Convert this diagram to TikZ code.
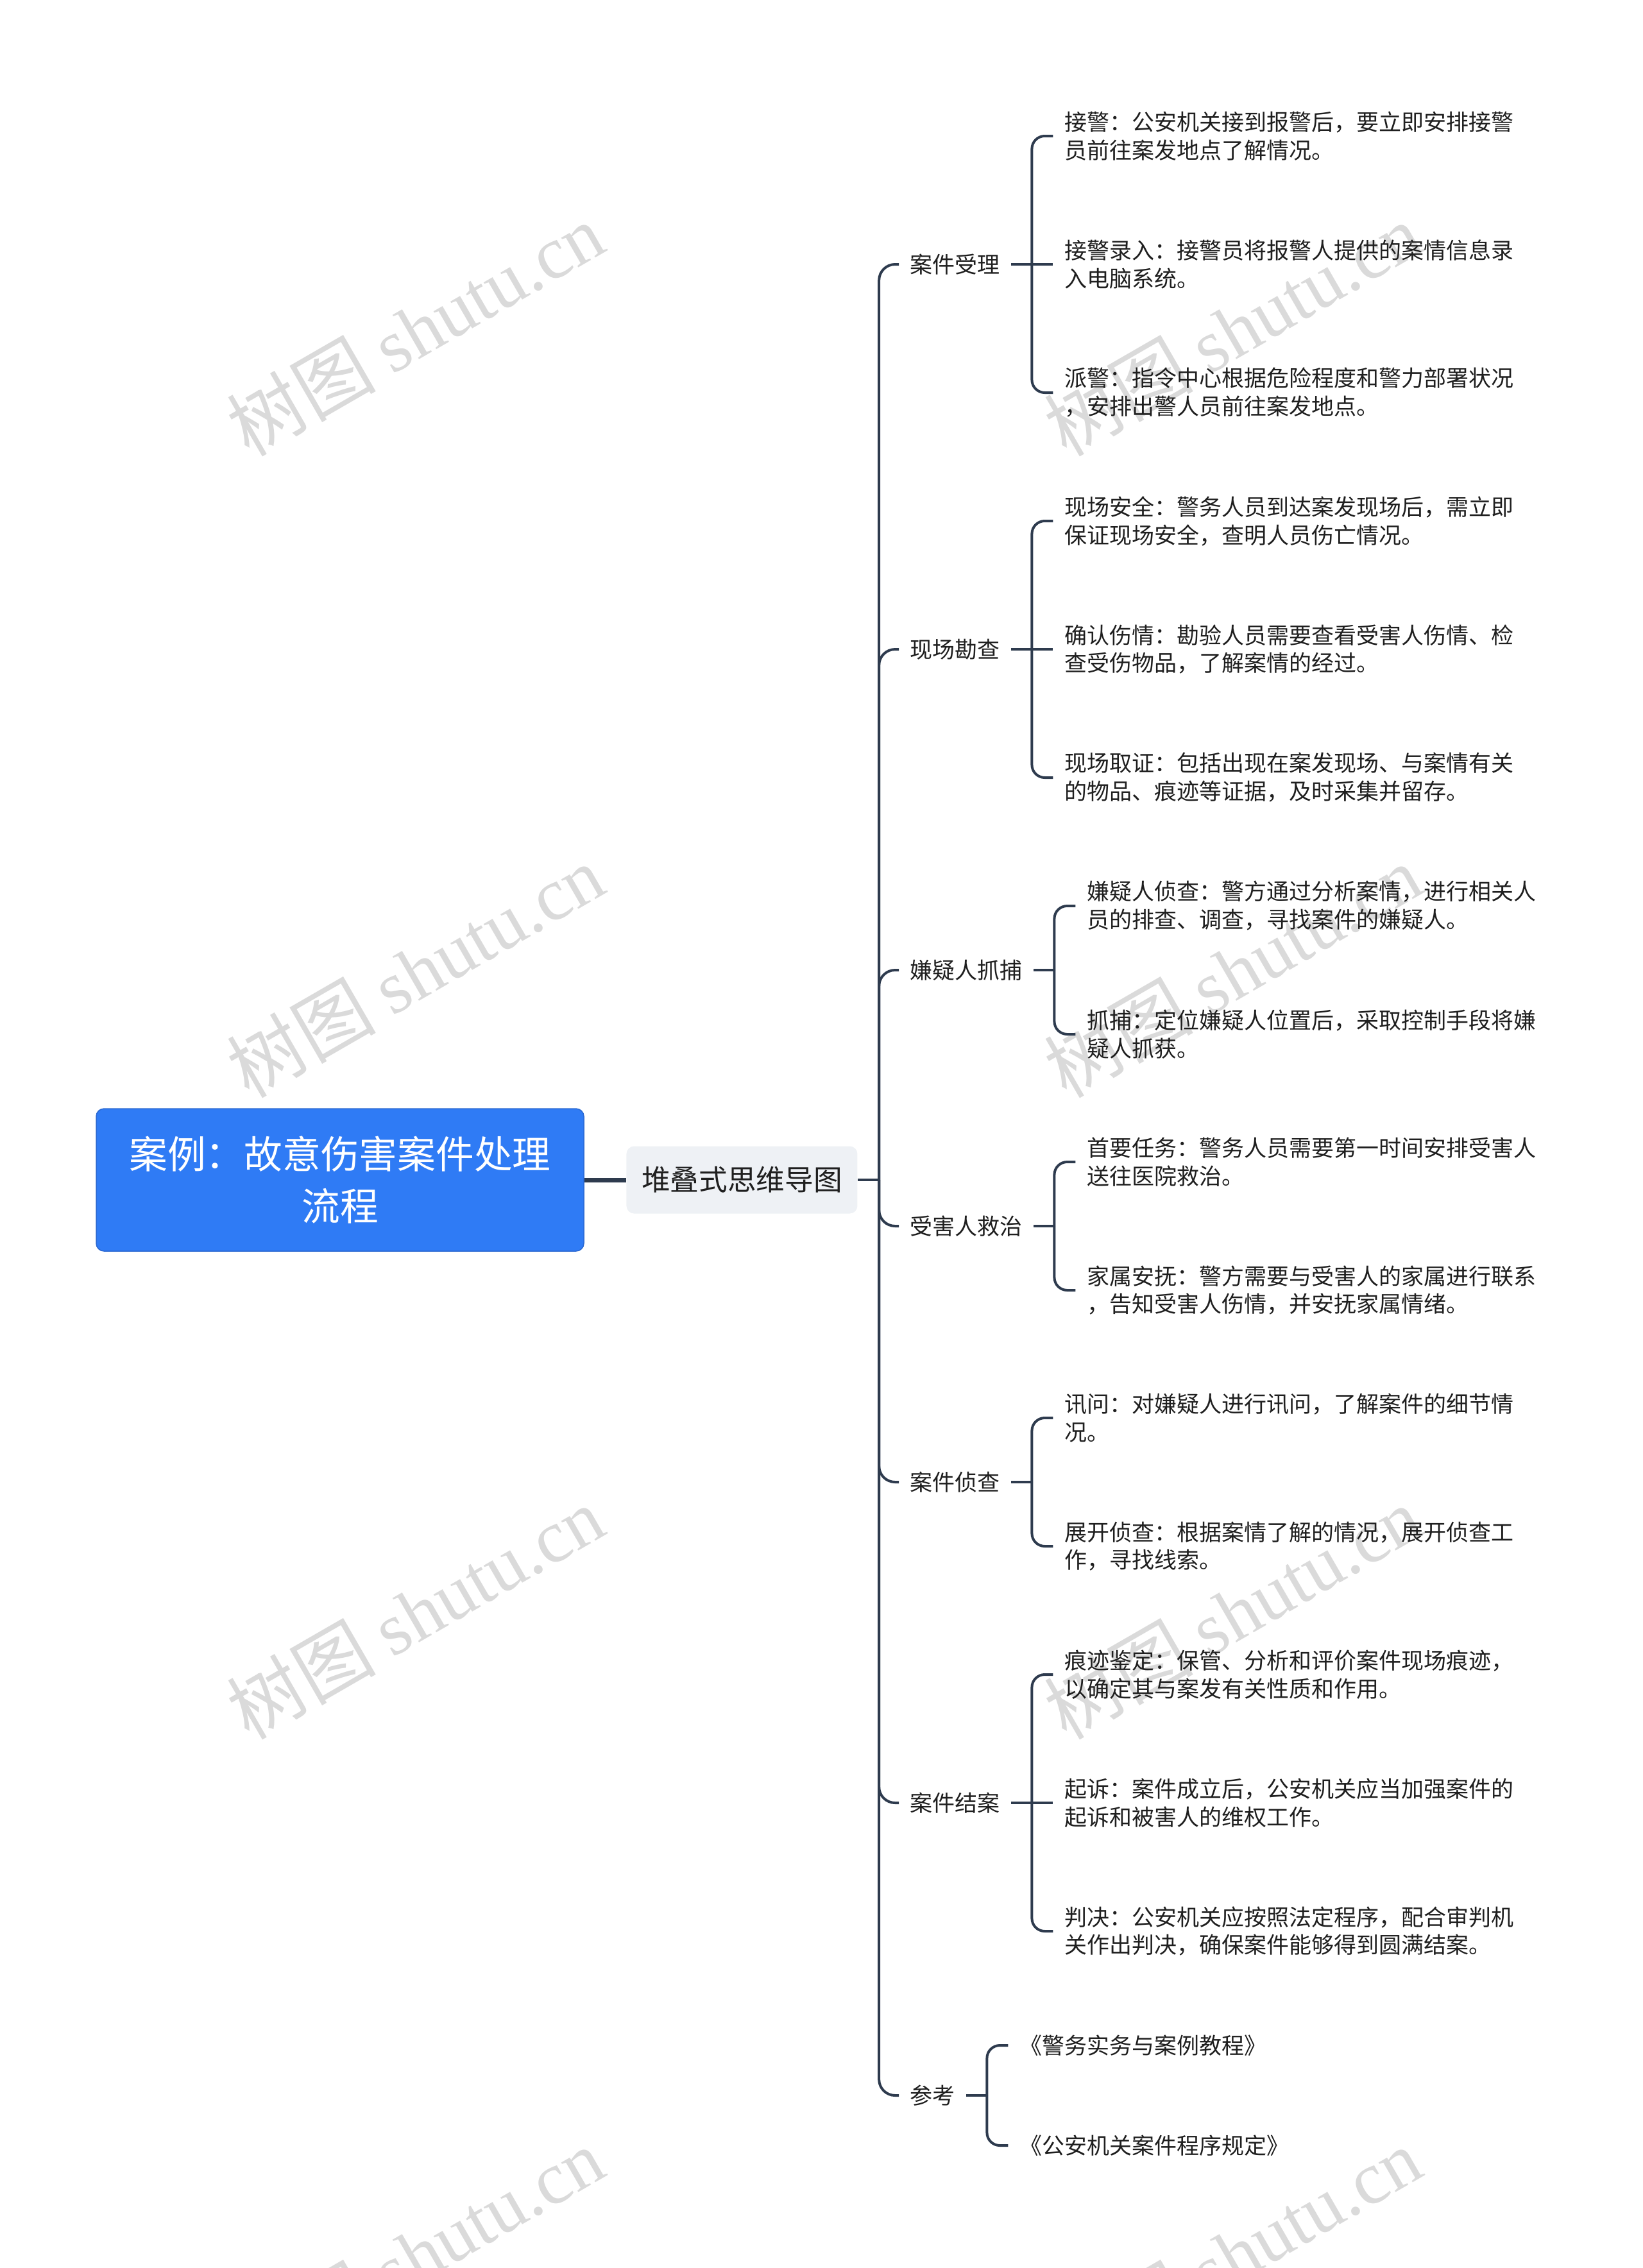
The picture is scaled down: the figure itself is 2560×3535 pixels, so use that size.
\documentclass[tikz,border=0pt]{standalone}
\usepackage{fontspec}
\setmainfont{Noto Sans CJK SC}
\newfontfamily\wmlatin{Liberation Serif}
\usetikzlibrary{positioning}
\definecolor{rootblue}{HTML}{2F7BF5}
\definecolor{rootline}{HTML}{2A68D2}
\definecolor{linkgray}{HTML}{2E3B4E}
\definecolor{hubfill}{HTML}{EEF1F5}
\definecolor{markgray}{HTML}{DADADA}
\definecolor{inkdark}{HTML}{1F1F1F}

\begin{document}
\begin{tikzpicture}[x=0.1mm, y=-0.1mm,
  root/.style = {draw=rootline, line width=0.15mm, fill=rootblue, rounded corners=1.2mm, text=white,
    minimum width=76mm, minimum height=22.2mm, align=center, font=\fontsize{17pt}{22.8pt}\selectfont},
  hub/.style = {fill=hubfill, rounded corners=1.2mm, minimum width=36mm, minimum height=10.5mm,
    text=inkdark, font=\fontsize{12.7pt}{15pt}\selectfont},
  topic/.style = {anchor=west, inner xsep=1.7mm, text=inkdark, font=\fontsize{9.96pt}{12.5pt}\selectfont},
  leaf/.style = {topic, align=left},
  link/.style = {draw=linkgray, line width=0.4mm},
  wmark/.style = {text=markgray, rotate=30, font=\fontsize{33pt}{35pt}\selectfont}]
\useasboundingbox (0,0) rectangle (2560,3535);

% watermarks
\foreach \wx in {647,1921}
  \foreach \wy in {513,1513,2513,3513}
    \node[wmark] at (\wx,\wy) {树图 {\wmlatin shutu.cn}};

\node[root] (root) at (530,1839) {案例：故意伤害案件处理\\流程};
\node[hub, right=6.5mm of root] (hub) {堆叠式思维导图};
\draw[draw=linkgray, line width=0.7mm] (root) -- (hub);

% main topics
\node[topic] (b1) at (1401,412) {案件受理};
\node[topic] (b2) at (1401,1012) {现场勘查};
\node[topic] (b3) at (1401,1512) {嫌疑人抓捕};
\node[topic] (b4) at (1401,1911) {受害人救治};
\node[topic] (b5) at (1401,2310) {案件侦查};
\node[topic] (b6) at (1401,2810) {案件结案};
\node[topic] (b7) at (1401,3266) {参考};

\draw[link] (hub.east) -- ++(33,0) coordinate (fork);
\foreach \b in {b1,b2,b3,b4,b5,b6,b7}
  \draw[link, rounded corners=2.5mm] (fork) |- (\b.west);

% 案件受理
\node[leaf, right=6.5mm of b1, yshift=20mm] (l11) {接警：公安机关接到报警后，要立即安排接警\\员前往案发地点了解情况。};
\node[leaf, right=6.5mm of b1] (l12) {接警录入：接警员将报警人提供的案情信息录\\入电脑系统。};
\node[leaf, right=6.5mm of b1, yshift=-20mm] (l13) {派警：指令中心根据危险程度和警力部署状况\\，安排出警人员前往案发地点。};
\draw[link] (b1.east) -- ++(32,0) coordinate (k1) -- (l12.west);
\draw[link, rounded corners=2mm] (k1) |- (l11.west);
\draw[link, rounded corners=2mm] (k1) |- (l13.west);

% 现场勘查
\node[leaf, right=6.5mm of b2, yshift=20mm] (l21) {现场安全：警务人员到达案发现场后，需立即\\保证现场安全，查明人员伤亡情况。};
\node[leaf, right=6.5mm of b2] (l22) {确认伤情：勘验人员需要查看受害人伤情、检\\查受伤物品，了解案情的经过。};
\node[leaf, right=6.5mm of b2, yshift=-20mm] (l23) {现场取证：包括出现在案发现场、与案情有关\\的物品、痕迹等证据，及时采集并留存。};
\draw[link] (b2.east) -- ++(32,0) coordinate (k2) -- (l22.west);
\draw[link, rounded corners=2mm] (k2) |- (l21.west);
\draw[link, rounded corners=2mm] (k2) |- (l23.west);

% 嫌疑人抓捕
\node[leaf, right=6.5mm of b3, yshift=10mm] (l31) {嫌疑人侦查：警方通过分析案情，进行相关人\\员的排查、调查，寻找案件的嫌疑人。};
\node[leaf, right=6.5mm of b3, yshift=-10mm] (l32) {抓捕：定位嫌疑人位置后，采取控制手段将嫌\\疑人抓获。};
\draw[link] (b3.east) -- ++(32,0) coordinate (k3);
\draw[link, rounded corners=2mm] (k3) |- (l31.west);
\draw[link, rounded corners=2mm] (k3) |- (l32.west);

% 受害人救治
\node[leaf, right=6.5mm of b4, yshift=10mm] (l41) {首要任务：警务人员需要第一时间安排受害人\\送往医院救治。};
\node[leaf, right=6.5mm of b4, yshift=-10mm] (l42) {家属安抚：警方需要与受害人的家属进行联系\\，告知受害人伤情，并安抚家属情绪。};
\draw[link] (b4.east) -- ++(32,0) coordinate (k4);
\draw[link, rounded corners=2mm] (k4) |- (l41.west);
\draw[link, rounded corners=2mm] (k4) |- (l42.west);

% 案件侦查
\node[leaf, right=6.5mm of b5, yshift=10mm] (l51) {讯问：对嫌疑人进行讯问，了解案件的细节情\\况。};
\node[leaf, right=6.5mm of b5, yshift=-10mm] (l52) {展开侦查：根据案情了解的情况，展开侦查工\\作，寻找线索。};
\draw[link] (b5.east) -- ++(32,0) coordinate (k5);
\draw[link, rounded corners=2mm] (k5) |- (l51.west);
\draw[link, rounded corners=2mm] (k5) |- (l52.west);

% 案件结案
\node[leaf, right=6.5mm of b6, yshift=20mm] (l61) {痕迹鉴定：保管、分析和评价案件现场痕迹，\\以确定其与案发有关性质和作用。};
\node[leaf, right=6.5mm of b6] (l62) {起诉：案件成立后，公安机关应当加强案件的\\起诉和被害人的维权工作。};
\node[leaf, right=6.5mm of b6, yshift=-20mm] (l63) {判决：公安机关应按照法定程序，配合审判机\\关作出判决，确保案件能够得到圆满结案。};
\draw[link] (b6.east) -- ++(32,0) coordinate (k6) -- (l62.west);
\draw[link, rounded corners=2mm] (k6) |- (l61.west);
\draw[link, rounded corners=2mm] (k6) |- (l63.west);

% 参考
\node[leaf, right=6.5mm of b7, yshift=7.8mm] (l71) {《警务实务与案例教程》};
\node[leaf, right=6.5mm of b7, yshift=-7.8mm] (l72) {《公安机关案件程序规定》};
\draw[link] (b7.east) -- ++(32,0) coordinate (k7);
\draw[link, rounded corners=2mm] (k7) |- (l71.west);
\draw[link, rounded corners=2mm] (k7) |- (l72.west);
\end{tikzpicture}
\end{document}
